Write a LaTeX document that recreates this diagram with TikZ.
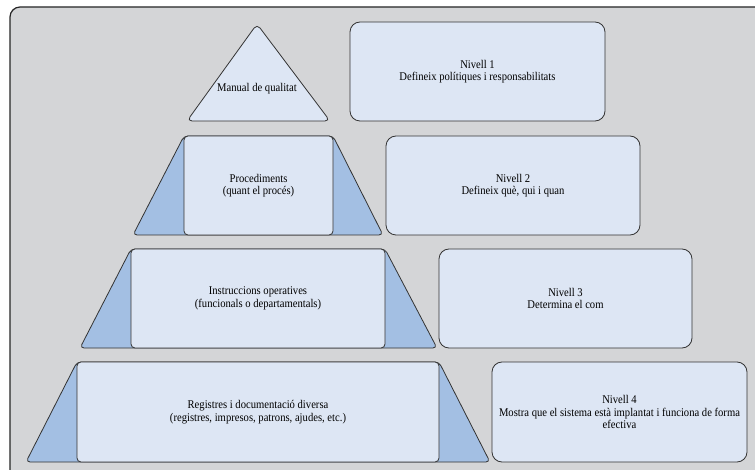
\documentclass[tikz,border=0pt]{standalone}
\usepackage{fontspec}
\setmainfont{Liberation Serif}[FakeStretch=0.9]
\definecolor{bggray}{HTML}{D4D5D7}
\definecolor{boxblue}{HTML}{DDE6F4}
\definecolor{sideblue}{HTML}{A3BFE3}

\begin{document}
\begin{tikzpicture}[x=1pt,y=-1pt,
        every node/.style={font=\fontsize{11.8}{12.5}\selectfont, align=center, inner sep=0pt},
        level/.style={draw=black!80, line width=0.8pt, fill=boxblue, rounded corners=4pt, minimum height=99pt},
        nivell/.style={level, rounded corners=10pt},
        side/.style={draw=black!80, line width=0.8pt, fill=sideblue, rounded corners=4pt}]
                \useasboundingbox (0,0) rectangle (755,470);
                % fons
                \draw [fill=bggray, draw=black!85, line width=1.2pt, rounded corners=10pt] (10,7) rectangle (780,490);
                % nivell 1: manual
                \draw [draw=black!80, line width=0.8pt, fill=boxblue, rounded corners=5pt] (257,24) -- (330,121) -- (187,121) -- cycle;
                \node (manual) at (257,89) {Manual de qualitat};
                \node [nivell, minimum width=255pt] (niv1) at (477.5,71.5) {Nivell 1\\Defineix polítiques i responsabilitats};
                % nivell 2: procediments
                \draw [side] (133,235) -- (184,136) -- (333,136) -- (383,235) -- cycle;
                \node [level, minimum width=149pt] (proc) at (258.5,185.5) {Procediments\\(quant el procés)};
                \node [nivell, minimum width=254pt] (niv2) at (513,185.5) {Nivell 2\\Defineix què, qui i quan};
                % nivell 3: instruccions
                \draw [side] (80,348) -- (131,249) -- (385,249) -- (437,348) -- cycle;
                \node [level, minimum width=254pt] (instr) at (258,298.5) {Instruccions operatives\\(funcionals o departamentals)};
                \node [nivell, minimum width=253pt] (niv3) at (565.5,298.5) {Nivell 3\\Determina el com};
                % nivell 4: registres
                \draw [side] (26,462) -- (77,362) -- (439,362) -- (490,462) -- cycle;
                \node [level, minimum width=362pt, minimum height=100pt] (reg) at (258,412) {Registres i documentació diversa\\(registres, impresos, patrons, ajudes, etc.)};
                \node [nivell, minimum width=255pt, minimum height=100pt] (niv4) at (619.5,412) {Nivell 4\\Mostra que el sistema està implantat i funciona de forma\\efectiva};
            \end{tikzpicture}
\end{document}
